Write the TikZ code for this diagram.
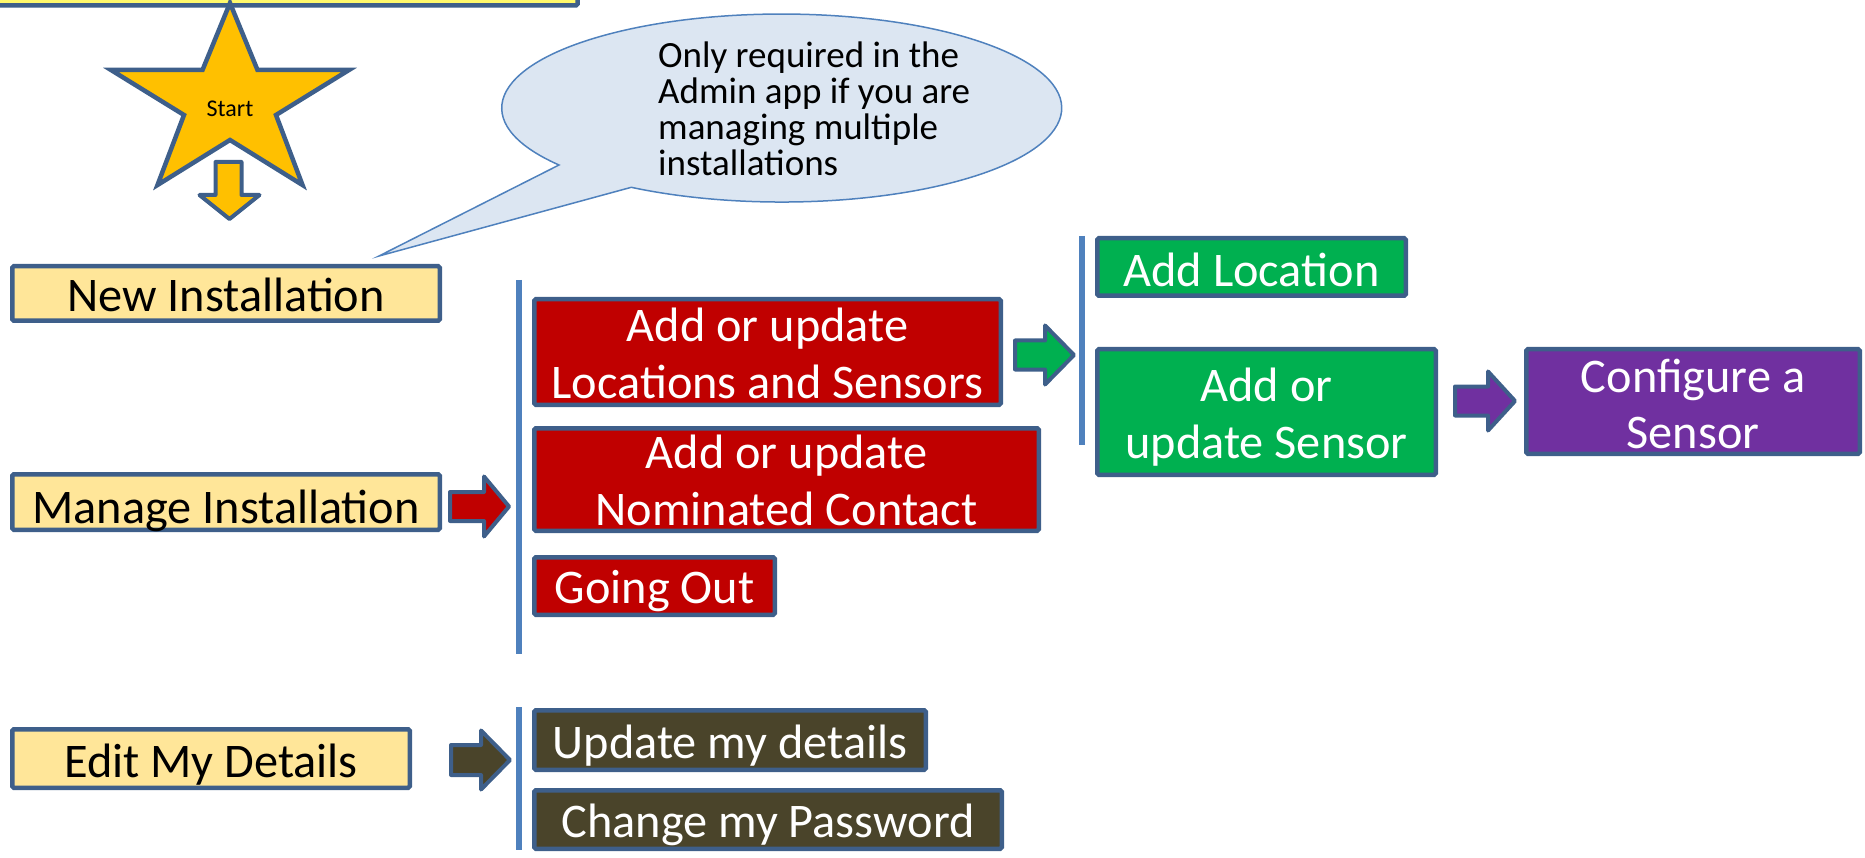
\documentclass[tikz,border=0pt]{standalone}
\usepackage{fontspec}
\setmainfont{Carlito}
\usetikzlibrary{calc}
\definecolor{bord}{HTML}{3E5F8A}
\definecolor{ylw}{HTML}{FFE699}
\definecolor{ylwtop}{HTML}{FFF96B}
\definecolor{starf}{HTML}{FFC000}
\definecolor{redf}{HTML}{C00000}
\definecolor{grnf}{HTML}{00B050}
\definecolor{purf}{HTML}{7030A0}
\definecolor{drkf}{HTML}{4A442A}
\definecolor{blueln}{HTML}{4F81BD}
\definecolor{callf}{HTML}{DCE6F2}
% centred lines: #1 = drop of last baseline below node centre, #2 = baselineskip
\newcommand\cl[3]{\smash{\lower#1pt\vbox{\lineskiplimit=-1000pt\baselineskip=#2pt\let\\\cr\halign{\hfil##\hfil\cr#3\crcr}}}}
\newcommand\lft[3]{\smash{\lower#1pt\vbox{\lineskiplimit=-1000pt\baselineskip=#2pt\let\\\cr\halign{##\hfil\cr#3\crcr}}}}
% block arrow pointing right: style, start, tip, half shaft, half head, head length
\newcommand\rarrow[6]{\draw[#1] let \p1=(#2), \p2=(#3) in (\x1,\y2+#4pt) -- (\x2-#6pt,\y2+#4pt) -- (\x2-#6pt,\y2+#5pt) -- (\x2,\y2) -- (\x2-#6pt,\y2-#5pt) -- (\x2-#6pt,\y2-#4pt) -- (\x1,\y2-#4pt) -- cycle;}
\tikzset{
  bx/.style={draw=bord, line width=4.5pt, rounded corners=1.5pt, inner sep=0pt, font=\fontsize{48.3}{57}\selectfont},
  ybox/.style={bx, fill=ylw, text=black},
  rbox/.style={bx, fill=redf, text=white},
  gbox/.style={bx, fill=grnf, text=white},
  pbox/.style={bx, fill=purf, text=white},
  dbox/.style={bx, fill=drkf, text=white},
  blk/.style={draw=bord, line width=4pt, line join=round},
  vline/.style={draw=blueln, line width=6pt},
}
\begin{document}
\begin{tikzpicture}[x=1pt,y=-1pt]
\useasboundingbox (0,0) rectangle (1865,858);
\clip (0,0) rectangle (1865,858);

% cut-off title box
\draw[draw=bord, line width=4.5pt, fill=ylwtop, rounded corners=1.5pt] (-20,-60) rectangle (577.5,5.5);

% callout
\draw[fill=callf, draw=blueln, line width=1.5pt] (379,256) -- (559,165) arc[start angle=142.7, end angle=482.5, x radius=280, y radius=94] -- cycle;
\node[anchor=west, inner sep=0pt, font=\fontsize{37}{36}\selectfont] (note) at (658,176)
  {\lft{0}{36}{Only required in the\\Admin app if you are\\managing multiple\\installations}};

% star
\draw[draw=bord, line width=4.5pt, fill=starf] (230,3) -- (257.5,70) -- (349,70) -- (276,115) -- (302.5,185) -- (230,140) -- (157.5,185) -- (184,115) -- (111,70) -- (202.5,70) -- cycle;
\node[inner sep=0pt, font=\fontsize{24}{28}\selectfont] (start) at (230,117) {\cl{0}{28}{Start}};
% down arrow
\draw[blk, fill=starf] (215.5,162) -- (241.5,162) -- (241.5,195) -- (259.5,195) -- (229.5,219) -- (199.5,195) -- (215.5,195) -- cycle;

% yellow boxes
\node[ybox, minimum width=427.5, minimum height=54.5] (new) at (226,293.5) {\cl{18.5}{57}{New Installation}};
\node[ybox, minimum width=427.5, minimum height=55.5] (manage) at (226,502) {\cl{21}{57}{Manage Installation}};
\node[ybox, minimum width=397.5, minimum height=58.5] (edit) at (211,758.5) {\cl{18.5}{57}{Edit My Details}};

% red boxes
\node[rbox, minimum width=466.5, minimum height=105.5] (locsens) at (767.5,352) {\cl{47}{57}{Add or update\\Locations and Sensors}};
\node[rbox, minimum width=504.5, minimum height=102.5] (nomcon) at (786.5,479.5) {\cl{45.5}{57}{Add or update\\Nominated Contact}};
\node[rbox, minimum width=240.5, minimum height=57.5] (going) at (654.5,586) {\cl{17}{57}{Going Out}};

% green boxes
\node[gbox, minimum width=308.5, minimum height=57.5] (addloc) at (1251.5,267) {\cl{20}{57}{Add Location}};
\node[gbox, minimum width=338.5, minimum height=125.5] (addsens) at (1266.5,412) {\cl{46}{57}{Add or\\update Sensor}};

% purple box
\node[pbox, minimum width=333.5, minimum height=104.5] (config) at (1693,401.5) {\cl{46.5}{56}{Configure a\\Sensor}};

% dark boxes
\node[dbox, minimum width=391.5, minimum height=59.5] (upd) at (730,740) {\cl{18}{57}{Update my details}};
\node[dbox, minimum width=467.5, minimum height=58.5] (pwd) at (768,819.5) {\cl{17.5}{57}{Change my Password}};

% bracket lines
\coordinate (l1t) at (519,280); \coordinate (l1b) at (519,654);
\coordinate (l2t) at (1082,236); \coordinate (l2b) at (1082,445);
\coordinate (l3t) at (519,707); \coordinate (l3b) at (519,850);
\draw[vline] (l1t) -- (l1b);
\draw[vline] (l2t) -- (l2b);
\draw[vline] (l3t) -- (l3b);

% block arrows
\coordinate (ra0) at (450,506.5); \coordinate (ra1) at (509,506.5);
\coordinate (ga0) at (1015,355);  \coordinate (ga1) at (1074,355);
\coordinate (pa0) at (1455,401);  \coordinate (pa1) at (1515,401);
\coordinate (da0) at (451,760);   \coordinate (da1) at (510,760);
\rarrow{blk, fill=redf}{ra0}{ra1}{14.5}{30}{25}
\rarrow{blk, fill=grnf}{ga0}{ga1}{14.5}{29.5}{29}
\rarrow{blk, fill=purf}{pa0}{pa1}{14.5}{29.5}{27}
\rarrow{blk, fill=drkf}{da0}{da1}{15}{29.5}{29}
\end{tikzpicture}
\end{document}
